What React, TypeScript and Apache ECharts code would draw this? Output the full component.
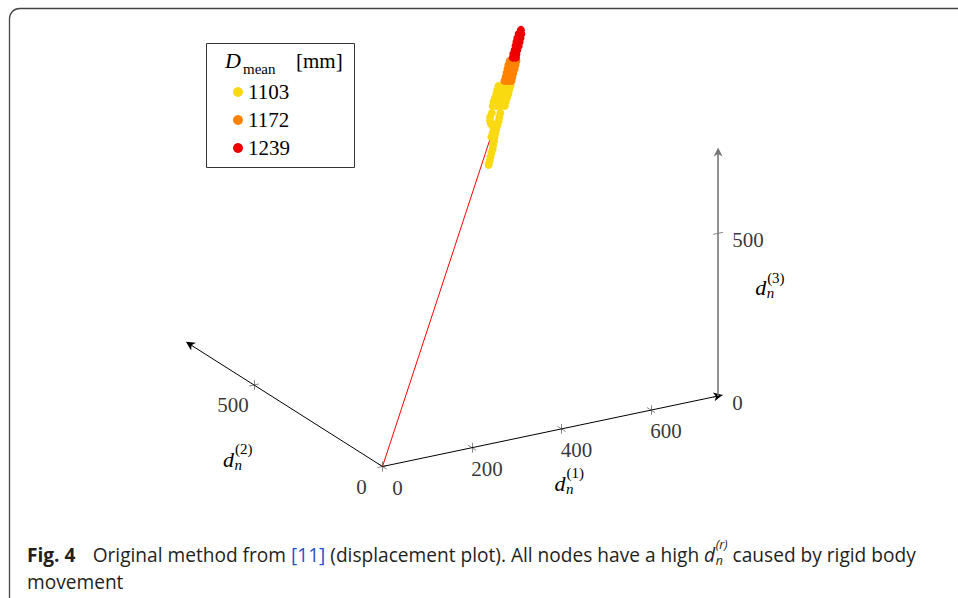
import React, { useEffect, useRef } from 'react';
import * as echarts from 'echarts';

// ---------- data ----------
const AXIS_MAX = 750;
const axis1Ticks = [0, 200, 400, 600];
const axis2Ticks = [0, 500];
const axis3Ticks = [0, 500];
const legendNames = ['1103', '1172', '1239'];
const seriesColors = ['#F9DA12', '#FF8200', '#EE0000'];

// node displacements [d1, d2, d3]
const nodes1103: number[][] = [
  [400, 245, 931], [409, 245, 928], [418, 245, 926], [427, 245, 923],
  [397, 245, 920], [406, 245, 917], [415, 245, 914], [424, 245, 912],
  [395, 245, 908], [404, 245, 905], [413, 245, 903], [422, 245, 900],
  [392, 245, 896], [401, 245, 894], [410, 245, 891], [419, 245, 889],
  [389, 245, 885], [398, 245, 882], [407, 245, 880], [416, 245, 877],
  [387, 245, 873], [396, 245, 871], [405, 245, 868], [414, 245, 866],
  [385, 245, 852], [381, 245, 841], [381, 245, 829], [383, 245, 819],
  [404, 245, 847], [402, 245, 835], [400, 245, 823], [398, 245, 812], [395, 245, 800],
  [393, 245, 789], [391, 245, 777], [390, 245, 765], [388, 245, 753], [387, 245, 741],
  [384, 245, 730], [382, 245, 718], [380, 245, 706], [378, 245, 695],
  [391, 245, 814], [389, 245, 802], [387, 245, 790], [384, 245, 779],
];
const nodes1172: number[][] = [
  [425, 245, 1001], [432, 245, 999], [440, 245, 996],
  [422, 245, 989], [430, 245, 987], [438, 245, 985],
  [420, 245, 978], [428, 245, 975], [436, 245, 973],
  [418, 245, 966], [426, 245, 963], [433, 245, 961],
  [416, 245, 954], [423, 245, 952], [431, 245, 950],
  [413, 245, 943], [421, 245, 940], [429, 245, 938],
];
const nodes1239: number[][] = [
  [450, 245, 1089],
  [445, 245, 1078], [451, 245, 1076],
  [442, 245, 1066], [449, 245, 1064],
  [440, 245, 1055], [447, 245, 1053],
  [438, 245, 1043], [445, 245, 1041],
  [436, 245, 1031], [442, 245, 1030],
  [433, 245, 1020], [440, 245, 1018],
  [432, 245, 1009], [439, 245, 1007],
];
const rigidVector = [403, 245, 859];

const captionLabel = 'Fig. 4';
const captionParts = ['Original method from ', '[11]', ' (displacement plot). All nodes have a high ', ' caused by rigid body'];
const captionLine2 = 'movement';

// ---------- projection (3D -> screen) ----------
const O = [382.5, 466.5];
const E1 = [0.4475, -0.094];
const E2 = [-0.257, -0.163];
const E3 = [0, -0.3254];
function proj(p: number[]): number[] {
  return [
    O[0] + p[0] * E1[0] + p[1] * E2[0] + p[2] * E3[0],
    O[1] + p[0] * E1[1] + p[1] * E2[1] + p[2] * E3[1],
  ];
}

const SERIF = '"Liberation Serif", "DejaVu Serif", serif';
const SANS = '"Open Sans", "Noto Sans", sans-serif';
const ARROW = 'path://M5,0 L10,11 L5,8 L0,11 Z';

function txt(text: string, x: number, y: number, o: any = {}) {
  return {
    type: 'text',
    x,
    y,
    silent: true,
    z: 10,
    style: {
      text,
      fill: o.fill || '#000',
      fontSize: o.fontSize || 21,
      fontFamily: o.fontFamily || SERIF,
      fontStyle: o.fontStyle || 'normal',
      fontWeight: o.fontWeight || 'normal',
      align: o.align || 'left',
      verticalAlign: 'middle',
    },
  };
}
// baseline -> middle
const mid = (baseline: number, fs: number) => baseline - 0.34 * fs;

function mathLabel(anchor: number[], sup: string) {
  const [x, b] = anchor;
  return [
    txt('d', x, mid(b, 22), { fontSize: 22, fontStyle: 'italic' }),
    txt('n', x + 11.5, mid(b + 3, 15), { fontSize: 15, fontStyle: 'italic' }),
    txt(sup, x + 12, mid(b - 12.5, 15), { fontSize: 15 }),
  ];
}

function captionGraphics() {
  const ctx = document.createElement('canvas').getContext('2d')!;
  const meas = (t: string, fs: number, weight = 'normal', style = 'normal') => {
    ctx.font = `${style} ${weight} ${fs}px ${SANS}`;
    return ctx.measureText(t).width;
  };
  const totalAt = (fs: number) =>
    meas(captionLabel, fs, 'bold') + fs * 0.9 +
    meas(captionParts[0], fs) + meas(captionParts[1], fs) + meas(captionParts[2], fs) +
    meas('d', fs, 'normal', 'italic') + 0.5 + Math.max(meas('n', fs * 0.65, 'normal', 'italic'), meas('(r)', fs * 0.65, 'normal', 'italic')) +
    meas(captionParts[3], fs);
  const left = 27;
  const right = 916;
  let fs = 19 * (right - left) / totalAt(19);
  fs = Math.max(15, Math.min(21, fs));
  const b1 = 561;
  const b2 = 588;
  const out: any[] = [];
  let x = left;
  const col = '#231f20';
  out.push(txt(captionLabel, x, mid(b1, fs), { fontFamily: SANS, fontSize: fs, fontWeight: 'bold', fill: col }));
  x += meas(captionLabel, fs, 'bold') + fs * 0.9;
  out.push(txt(captionParts[0], x, mid(b1, fs), { fontFamily: SANS, fontSize: fs, fill: col }));
  x += meas(captionParts[0], fs);
  out.push(txt(captionParts[1], x, mid(b1, fs), { fontFamily: SANS, fontSize: fs, fill: '#2B50C8' }));
  x += meas(captionParts[1], fs);
  out.push(txt(captionParts[2], x, mid(b1, fs), { fontFamily: SANS, fontSize: fs, fill: col }));
  x += meas(captionParts[2], fs);
  out.push(txt('d', x, mid(b1, fs), { fontFamily: SANS, fontSize: fs, fontStyle: 'italic', fill: col }));
  x += meas('d', fs, 'normal', 'italic') + 0.5;
  const sfs = fs * 0.65;
  out.push(txt('n', x, mid(b1 + 4, sfs), { fontFamily: SANS, fontSize: sfs, fontStyle: 'italic', fill: col }));
  out.push(txt('(r)', x, mid(b1 - 12, sfs), { fontFamily: SANS, fontSize: sfs, fontStyle: 'italic', fill: col }));
  x += Math.max(meas('n', sfs, 'normal', 'italic'), meas('(r)', sfs, 'normal', 'italic'));
  out.push(txt(captionParts[3], x, mid(b1, fs), { fontFamily: SANS, fontSize: fs, fill: col }));
  out.push(txt(captionLine2, left, mid(b2, fs), { fontFamily: SANS, fontSize: fs, fill: col }));
  return out;
}

function seg(p: number[], dir: number[], h: number) {
  const a = [p[0] - dir[0] * h, p[1] - dir[1] * h, p[2] - dir[2] * h];
  const b = [p[0] + dir[0] * h, p[1] + dir[1] * h, p[2] + dir[2] * h];
  return { coords: [proj(a), proj(b)] };
}

export default function App() {
  const ref = useRef<HTMLDivElement>(null);
  useEffect(() => {
    if (!ref.current) return;
    const chart = echarts.init(ref.current, undefined, { renderer: 'svg' });

    const tickSegs: any[] = [];
    axis1Ticks.forEach((v) => {
      tickSegs.push(seg([v, 0, 0], [0, 1, 0], 16));
      tickSegs.push(seg([v, 0, 0], [0, 0, 1], 15));
    });
    axis2Ticks.forEach((v) => {
      tickSegs.push(seg([0, v, 0], [1, 0, 0], 11));
      tickSegs.push(seg([0, v, 0], [0, 0, 1], 15));
    });
    axis3Ticks.forEach((v) => {
      tickSegs.push(seg([AXIS_MAX, 0, v], [1, 0, 0], 11));
    });

    const tickLabels: any[] = [];
    axis1Ticks.forEach((v) => {
      tickLabels.push({ name: String(v), value: proj([v, 0, 0]), label: { offset: [15, 21], align: 'center' } });
    });
    axis2Ticks.forEach((v) => {
      tickLabels.push({ name: String(v), value: proj([0, v, 0]), label: { offset: [-21, 20], align: 'center' } });
    });
    axis3Ticks.forEach((v) => {
      tickLabels.push({ name: String(v), value: proj([AXIS_MAX, 0, v]), label: { offset: [14, 7], align: 'left' } });
    });

    const groups = [nodes1103, nodes1172, nodes1239];

    const a1 = proj([400, 0, 0]);
    const a2 = proj([0, 500, 0]);
    const a3 = proj([AXIS_MAX, 0, 300]);

    const option: any = {
      animation: false,
      backgroundColor: '#fff',
      grid: { left: 0, top: 0, right: 0, bottom: 0, containLabel: false },
      xAxis: { type: 'value', min: 0, max: 958, show: false },
      yAxis: { type: 'value', min: 0, max: 598, inverse: true, show: false },
      legend: {
        data: legendNames,
        orient: 'vertical',
        left: 233,
        top: 81.5,
        padding: 0,
        itemWidth: 10,
        itemHeight: 10,
        itemGap: 7,
        icon: 'circle',
        selectedMode: false,
        textStyle: { fontFamily: SERIF, fontSize: 21, color: '#000' },
        z: 20,
      },
      series: [
        {
          type: 'lines',
          coordinateSystem: 'cartesian2d',
          silent: true,
          z: 1,
          lineStyle: { color: '#888', width: 1, opacity: 1 },
          data: tickSegs,
        },
        {
          type: 'lines',
          coordinateSystem: 'cartesian2d',
          silent: true,
          z: 2,
          symbol: ['none', ARROW],
          symbolSize: 9,
          lineStyle: { color: '#000', width: 1, opacity: 1 },
          data: [
            { coords: [proj([0, 0, 0]), proj([AXIS_MAX, 0, 0])] },
            { coords: [proj([0, 0, 0]), proj([0, AXIS_MAX, 0])] },
          ],
        },
        {
          type: 'lines',
          coordinateSystem: 'cartesian2d',
          silent: true,
          z: 2,
          symbol: ['none', ARROW],
          symbolSize: 9,
          lineStyle: { color: '#777', width: 1.6, opacity: 1 },
          itemStyle: { color: '#000' },
          data: [{ coords: [proj([AXIS_MAX, 0, 0]), proj([AXIS_MAX, 0, AXIS_MAX])] }],
        },
        {
          type: 'lines',
          coordinateSystem: 'cartesian2d',
          silent: true,
          z: 3,
          lineStyle: { color: '#FF0000', width: 1, opacity: 1 },
          data: [{ coords: [proj([0, 0, 0]), proj(rigidVector)] }],
        },
        ...groups.map((g, i) => ({
          type: 'scatter',
          name: legendNames[i],
          z: 5 + i,
          symbol: 'circle',
          symbolSize: 8,
          itemStyle: { color: seriesColors[i], opacity: 1 },
          data: g.map(proj),
        })),
        {
          type: 'scatter',
          silent: true,
          z: 8,
          symbolSize: 1,
          itemStyle: { color: 'rgba(0,0,0,0)' },
          label: {
            show: true,
            position: 'inside',
            formatter: (p: any) => p.name,
            fontFamily: SERIF,
            fontSize: 21,
            color: '#000',
            verticalAlign: 'middle',
          },
          data: tickLabels,
        },
      ],
      graphic: [
        {
          type: 'rect',
          silent: true,
          z: 0,
          shape: { x: 9.5, y: 8.5, width: 1000, height: 1000, r: 10 },
          style: { fill: 'none', stroke: '#444', lineWidth: 1.3 },
        },
        {
          type: 'rect',
          silent: true,
          z: 9,
          shape: { x: 206.5, y: 43.5, width: 148, height: 124 },
          style: { fill: '#fff', stroke: '#333', lineWidth: 1 },
        },
        txt('D', 225, mid(68, 22), { fontSize: 22, fontStyle: 'italic' }),
        txt('mean', 243, mid(74, 15), { fontSize: 15 }),
        txt('[mm]', 296, mid(68, 21), { fontSize: 21 }),
        ...mathLabel([a1[0] - 7, a1[1] + 62], '(1)'),
        ...mathLabel([a2[0] - 31, a2[1] + 82], '(2)'),
        ...mathLabel([a3[0] + 37, a3[1] - 3], '(3)'),
        ...captionGraphics(),
      ],
    };
    chart.setOption(option);
    return () => chart.dispose();
  }, []);
  return (
    <div
      ref={ref}
      style={{ position: 'fixed', left: 0, top: 0, width: 958, height: 598, background: '#fff' }}
    />
  );
}
